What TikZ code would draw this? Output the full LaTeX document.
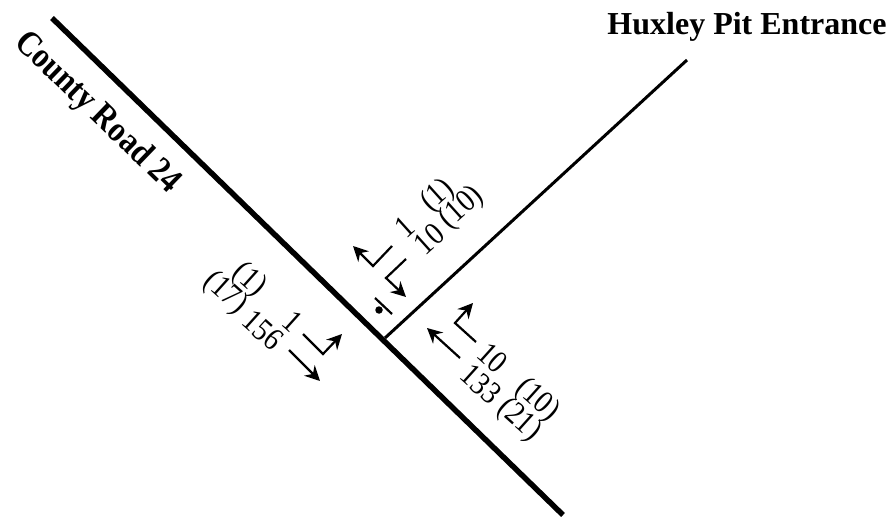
\documentclass[tikz,border=0pt]{standalone}
\usepackage{fontspec}
\setmainfont{Liberation Serif}
\usetikzlibrary{arrows.meta}
\tikzstyle{road} = [line width=5.5pt, draw=black]
\tikzstyle{entrance} = [line width=3pt, draw=black]
\tikzstyle{arrow} = [line width=2.2pt,->,>={Stealth[length=15pt,width=15pt,inset=5pt]},line join=miter]
\tikzstyle{roadlabel} = [inner sep=0pt, font=\fontsize{32}{36}\selectfont\bfseries]
\tikzstyle{volume} = [inner sep=0pt, yscale=1.15, font=\fontsize{28}{32}\selectfont]
\begin{document}
\begin{tikzpicture}[x=1pt,y=-1pt]
  \useasboundingbox (0,0) rectangle (891,521);
  % roads
  \coordinate (roadtop) at (52,18);
  \coordinate (roadend) at (563,515);
  \coordinate (pit) at (385,338);
  \coordinate (pitend) at (687,60);
  \draw [road] (roadtop)--(roadend);
  \draw [entrance] (pit)--(pitend);
  \node (roadname)[rotate=-44, yscale=1.15, roadlabel, font=\fontsize{31}{36}\selectfont\bfseries] at (97,113) {County Road 24};
  \node (pitname)[roadlabel] at (747,27) {Huxley Pit Entrance};
  % stop bar
  \coordinate (bara) at (375,298);
  \coordinate (barb) at (392,314);
  \draw [line width=2.2pt] (bara)--(barb);
  \node (stopdot)[circle, fill=black, inner sep=0pt, minimum size=7.5pt] at (379,310) {};
  % county road, going down
  \coordinate (da) at (289,350);
  \coordinate (db) at (320,381);
  \coordinate (dc) at (303,334);
  \coordinate (dd) at (323,354);
  \coordinate (de) at (342,334);
  \draw [arrow] (da)--(db);
  \draw [arrow] (dc)--(dd)--(de);
  \node (d1)[rotate=-42, volume] at (293,321) {1};
  \node (d156)[rotate=-42, volume] at (263,330) {156};
  \node (dp1)[rotate=-42, volume] at (249,280) {(1)};
  \node (dp17)[rotate=-42, volume] at (225,293) {(17)};
  % county road, going up
  \coordinate (ua) at (460,358);
  \coordinate (ub) at (427,328);
  \coordinate (uc) at (476,342);
  \coordinate (ud) at (455,323);
  \coordinate (ue) at (473,303);
  \draw [arrow] (ua)--(ub);
  \draw [arrow] (uc)--(ud)--(ue);
  \node (u10)[rotate=-42, volume] at (493,358) {10};
  \node (u133)[rotate=-42, volume] at (481,384) {133};
  \node (up10)[rotate=-42, volume] at (537,400) {(10)};
  \node (up21)[rotate=-42, volume] at (519,420) {(21)};
  % pit entrance
  \coordinate (pa) at (392,246);
  \coordinate (pb) at (373,266);
  \coordinate (pc) at (353,246);
  \coordinate (pd) at (406,259);
  \coordinate (pe) at (386,278);
  \coordinate (pf) at (406,297);
  \draw [arrow] (pa)--(pb)--(pc);
  \draw [arrow] (pd)--(pe)--(pf);
  \node (p1)[rotate=42, volume] at (405,227) {1};
  \node (p10)[rotate=42, volume] at (429,239) {10};
  \node (pp1)[rotate=42, volume] at (438,196) {(1)};
  \node (pp10)[rotate=42, volume] at (462,208) {(10)};
\end{tikzpicture}
\end{document}
